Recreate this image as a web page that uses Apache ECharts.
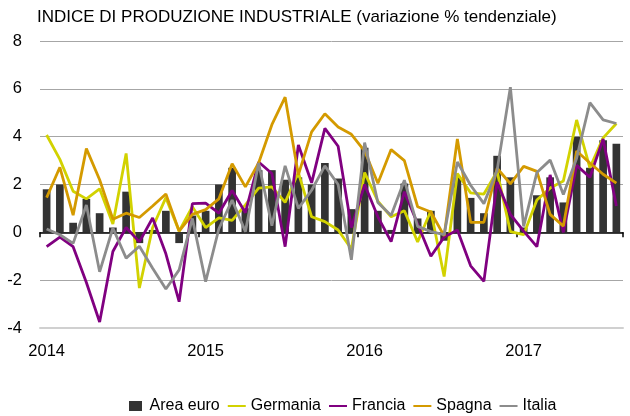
<!DOCTYPE html>
<html>
<head>
<meta charset="utf-8">
<script src="https://cdn.jsdelivr.net/npm/echarts@6/dist/echarts.min.js"></script>
<style>html,body{margin:0;padding:0;background:#fff;}#c{width:630px;height:416px;}</style>
</head>
<body>
<div id="c"></div>
<script>
// Months Jan 2014 .. Aug 2017
const years = ['2014','2015','2016','2017'];
const months = [];
for (const y of years) for (let m = 1; m <= 12; m++) { if (months.length < 44) months.push(y + '-' + String(m).padStart(2,'0')); }

const areaEuro = [1.8,2.0,0.4,1.4,0.8,0.2,1.7,-0.45,0.1,0.9,-0.45,0.7,0.9,2.0,2.7,1.0,2.6,2.6,2.2,2.3,2.0,2.9,2.25,0.97,3.54,0.9,0.1,2.04,0.58,0.9,-0.35,2.3,1.44,0.8,3.2,2.3,0.2,1.55,2.3,1.25,4.0,2.7,3.85,3.7];
const germania = [4.07,3.05,1.72,1.4,1.82,0.35,3.3,-2.33,0.2,1.45,0.05,1.07,0.2,0.6,0.5,1.15,1.85,1.9,1.25,2.5,0.65,0.45,0.1,-0.7,2.5,1.3,0.65,0.9,-0.4,0.9,-1.85,2.46,1.65,1.6,2.55,0.03,-0.1,1.35,1.85,2.15,4.7,2.7,3.95,4.55];
const francia = [-0.6,-0.2,-0.6,-2.1,-3.75,-0.8,0.2,-0.4,0.6,-0.9,-2.9,1.2,1.22,0.8,1.75,0.82,2.94,2.46,-0.6,3.65,2.07,4.35,3.6,0.2,2.0,0.65,-0.39,1.7,0.35,-1.0,-0.2,0.1,-1.4,-2.05,2.1,0.75,0.05,-0.6,2.4,0.0,2.8,2.3,3.9,1.1];
const spagna = [1.45,2.72,0.72,3.5,2.2,0.55,0.8,0.62,1.1,1.6,0.05,0.75,0.95,1.4,2.87,1.9,2.9,4.5,5.65,2.4,4.2,4.96,4.4,4.1,3.4,2.05,3.46,3.0,1.07,0.85,-0.15,3.9,0.42,0.42,2.68,2.03,2.76,2.55,0.75,0.26,3.4,2.9,2.43,2.06];
const italia = [0.14,-0.1,-0.46,1.14,-1.65,0.18,-1.08,-0.58,-1.5,-2.37,-1.57,0.58,-2.06,0.15,1.35,0.03,2.9,0.28,2.78,1.0,1.76,2.78,2.0,-1.15,3.75,1.25,0.7,2.18,0.25,0.03,-0.1,2.94,1.97,1.2,2.6,6.07,0.25,2.5,3.02,1.58,3.1,5.42,4.7,4.55];
const yTicks = [-4,-2,0,2,4,6,8];

const FONT = 'Liberation Sans, Arial, sans-serif';
const C = {bar:'#333333', ger:'#d2d200', fra:'#800080', spa:'#d49a00', ita:'#8c8c8c'};

const chart = echarts.init(document.getElementById('c'), null, {renderer:'canvas'});
function lineSeries(name, data, color) {
  return {name, type:'line', data, xAxisIndex:0, symbol:'none', smooth:false,
    lineStyle:{color, width:2.8}, itemStyle:{color}, z:3};
}
chart.setOption({
  animation:false,
  backgroundColor:'#fff',
  title:{text:'INDICE DI PRODUZIONE INDUSTRIALE (variazione % tendenziale)', left:32, top:4,
    textStyle:{fontFamily:FONT, fontSize:17, fontWeight:'normal', color:'#000'}},
  grid:{left:40, right:7, top:41, bottom:88},
  legend:{left:124, top:393, itemWidth:18, itemHeight:10, itemGap:7, symbolKeepAspect:true,
    textStyle:{fontFamily:FONT, fontSize:16, color:'#000'},
    data:[
      {name:'Area euro', icon:'path://M0,0 H13 V10 H0 Z'},
      {name:'Germania', itemStyle:{opacity:0}},
      {name:'Francia', itemStyle:{opacity:0}},
      {name:'Spagna', itemStyle:{opacity:0}},
      {name:'Italia', itemStyle:{opacity:0}}
    ]},
  xAxis:[
    {type:'category', data:months, boundaryGap:true,
      axisLine:{onZero:true, lineStyle:{color:'#000', width:1.5}},
      axisTick:{show:true, length:5, interval:(i)=>i%12===0, lineStyle:{color:'#000', width:1.5}},
      axisLabel:{show:false}, splitLine:{show:false}},
    {type:'category', data:months, boundaryGap:true, position:'bottom',
      axisLine:{onZero:false, show:true, lineStyle:{color:'#d0d0d0', width:2}},
      axisTick:{show:false},
      axisLabel:{show:true, interval:(i)=>i%12===0, margin:15,
        formatter:(v)=>v.slice(0,4), fontFamily:FONT, fontSize:16.5, color:'#000'},
      splitLine:{show:false}}
  ],
  yAxis:{type:'value', min:-4, max:8, interval:2,
    axisLine:{show:false}, axisTick:{show:false},
    axisLabel:{margin:18, fontFamily:FONT, fontSize:16.5, color:'#000',
      formatter:(v)=> yTicks.includes(v) ? String(v) : ''},
    splitLine:{lineStyle:{color:'#a6a6a6', width:1}}},
  series:[
    {name:'Area euro', type:'bar', data:areaEuro, xAxisIndex:0, barWidth:'58%',
      itemStyle:{color:C.bar}, z:2},
    lineSeries('Germania', germania, C.ger),
    lineSeries('Francia', francia, C.fra),
    lineSeries('Spagna', spagna, C.spa),
    lineSeries('Italia', italia, C.ita)
  ]
});
</script>
</body>
</html>
